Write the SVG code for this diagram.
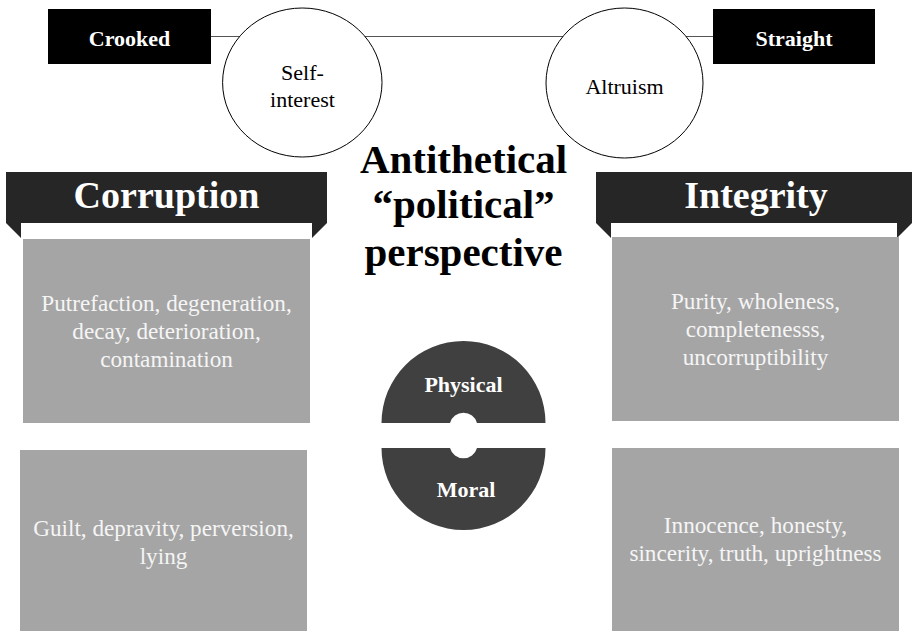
<svg xmlns="http://www.w3.org/2000/svg" width="912" height="631" viewBox="0 0 912 631">
  <style>
    text { font-family: "Liberation Serif", "Times New Roman", serif; text-anchor: middle; }
    .tag { fill: #000000; }
    .tag-label { fill: #ffffff; font-size: 22px; font-weight: bold; }
    .bubble { fill: #ffffff; stroke: #000000; stroke-width: 1; }
    .bubble-label { fill: #000000; font-size: 22px; }
    .banner { fill: #262626; }
    .banner-label { fill: #ffffff; font-size: 38px; font-weight: bold; }
    .card { fill: #a5a5a5; }
    .card-label { fill: #f5f5f5; font-size: 23.2px; }
    .title { fill: #000000; font-size: 41px; font-weight: bold; }
    .disk { fill: #404040; }
    .disk-label { fill: #ffffff; font-size: 22px; font-weight: bold; }
    .axis { stroke: #555555; stroke-width: 1.2; fill: none; }
  </style>

  <!-- spectrum line joining the two extremes -->
  <g id="connectors">
    <line class="axis" x1="211" y1="36.5" x2="713" y2="36.5"/>
  </g>

  <g id="crooked">
    <rect class="tag" x="48" y="9" width="163" height="55"/>
    <text class="tag-label" x="129.5" y="46">Crooked</text>
  </g>

  <g id="straight">
    <rect class="tag" x="713" y="9" width="162" height="55"/>
    <text class="tag-label" x="794" y="46">Straight</text>
  </g>

  <g id="self-interest">
    <ellipse class="bubble" cx="302.3" cy="82.5" rx="79.7" ry="74.5"/>
    <text class="bubble-label" x="302.5" y="80">Self-</text>
    <text class="bubble-label" x="302.5" y="107">interest</text>
  </g>

  <g id="altruism">
    <ellipse class="bubble" cx="624.5" cy="83" rx="78.5" ry="75"/>
    <text class="bubble-label" x="624.5" y="94">Altruism</text>
  </g>

  <g id="title">
    <text class="title" x="463.5" y="173">Antithetical</text>
    <text class="title" x="463.5" y="218">“political”</text>
    <text class="title" x="463.5" y="266">perspective</text>
  </g>

  <!-- ribbon headers with folded tails -->
  <g id="corruption">
    <rect class="banner" x="6" y="172" width="321" height="51"/>
    <polygon class="banner" points="6,223 21,223 21,238"/>
    <polygon class="banner" points="327,223 312,223 312,238"/>
    <text class="banner-label" x="166.5" y="208">Corruption</text>
  </g>

  <g id="integrity">
    <rect class="banner" x="596" y="172" width="316" height="51"/>
    <polygon class="banner" points="596,223 611,223 611,238"/>
    <polygon class="banner" points="912,223 897,223 897,238"/>
    <text class="banner-label" x="756" y="208">Integrity</text>
  </g>

  <g id="corruption-physical">
    <rect class="card" x="23" y="239" width="287" height="184"/>
    <text class="card-label" x="166.5" y="311">Putrefaction, degeneration,</text>
    <text class="card-label" x="166.5" y="339">decay, deterioration,</text>
    <text class="card-label" x="166.5" y="367">contamination</text>
  </g>

  <g id="corruption-moral">
    <rect class="card" x="20" y="450" width="287" height="181"/>
    <text class="card-label" x="163.5" y="536">Guilt, depravity, perversion,</text>
    <text class="card-label" x="163.5" y="564">lying</text>
  </g>

  <g id="integrity-physical">
    <rect class="card" x="612" y="237" width="287" height="184"/>
    <text class="card-label" x="755.5" y="309">Purity, wholeness,</text>
    <text class="card-label" x="755.5" y="337">completenesss,</text>
    <text class="card-label" x="755.5" y="365">uncorruptibility</text>
  </g>

  <g id="integrity-moral">
    <rect class="card" x="612" y="448" width="287" height="183"/>
    <text class="card-label" x="755.5" y="533">Innocence, honesty,</text>
    <text class="card-label" x="755.5" y="561">sincerity, truth, uprightness</text>
  </g>

  <!-- split disk: upper and lower halves with a notch at the centre -->
  <g id="physical">
    <path class="disk" d="M381.5 423 A82 82 0 0 1 545.5 423 L477 423 A14 14 0 0 0 450 423 Z"/>
    <text class="disk-label" x="463.5" y="392">Physical</text>
  </g>

  <g id="moral">
    <path class="disk" d="M381.5 448 L450 448 A14 14 0 0 0 477 448 L545.5 448 A82 82 0 0 1 381.5 448 Z"/>
    <text class="disk-label" x="466" y="497">Moral</text>
  </g>
</svg>
